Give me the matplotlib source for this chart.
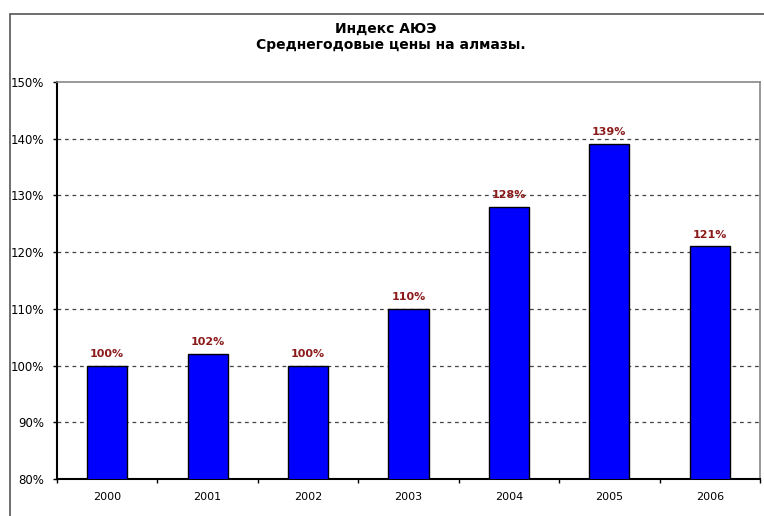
import numpy as np
from matplotlib import pyplot as plt
from matplotlib.patches import Rectangle

years = ['2000', '2001', '2002', '2003', '2004', '2005', '2006']
index_pct = [100, 102, 100, 110, 128, 139, 121]
y_ticks = [80, 90, 100, 110, 120, 130, 140, 150]

plt.rcParams['font.family'] = ['DejaVu Sans']

fig = plt.figure(figsize=(7.64, 5.16), dpi=100)
ax = fig.add_axes([57 / 764, 1 - 479 / 516, 703 / 764, 397 / 516])

# outer chart frame
fig.patches.append(Rectangle((10 / 764, -0.1), 1.2, 1 - 14 / 516 + 0.1,
                             transform=fig.transFigure, fill=False,
                             edgecolor='#555555', linewidth=1.2, zorder=0))

x = np.arange(len(years))
ax.bar(x, index_pct, width=0.4, bottom=0, color='#0000ff',
       edgecolor='black', linewidth=1.0, zorder=3)

for xi, v in zip(x, index_pct):
    ax.annotate(f'{v}%', (xi, v), xytext=(0, 5), textcoords='offset points',
                ha='center', va='bottom', fontsize=8, fontweight='bold',
                color='#8b1a1a', zorder=4)

ax.set_xlim(-0.5, len(years) - 0.5)
ax.set_ylim(80, 150)
ax.set_yticks(y_ticks)
ax.set_yticklabels([f'{t}%' for t in y_ticks], fontsize=8.5)
ax.set_xticks(x)
ax.set_xticklabels(years, fontsize=8)
ax.set_xticks(np.arange(len(years) + 1) - 0.5, minor=True)
ax.tick_params(axis='x', which='major', length=0, pad=9)
ax.tick_params(axis='x', which='minor', length=3, width=1, direction='out')
ax.tick_params(axis='y', length=3, width=1, pad=6)

for t in y_ticks[1:-1]:
    ax.axhline(t, color='#444444', linestyle=(0, (3, 3)), linewidth=0.9, zorder=1)

for side in ['top', 'right']:
    ax.spines[side].set_color('#888888')
    ax.spines[side].set_linewidth(1.2)
for side in ['left', 'bottom']:
    ax.spines[side].set_color('black')
    ax.spines[side].set_linewidth(1.5)

fig.text(386 / 764, 1 - 28.5 / 516, 'Индекс АЮЭ', ha='center', va='center',
         fontsize=10, fontweight='bold')
fig.text(391 / 764, 1 - 44.5 / 516, 'Среднегодовые цены на алмазы.', ha='center',
         va='center', fontsize=10, fontweight='bold')

fig.savefig('out.png', dpi=100)
